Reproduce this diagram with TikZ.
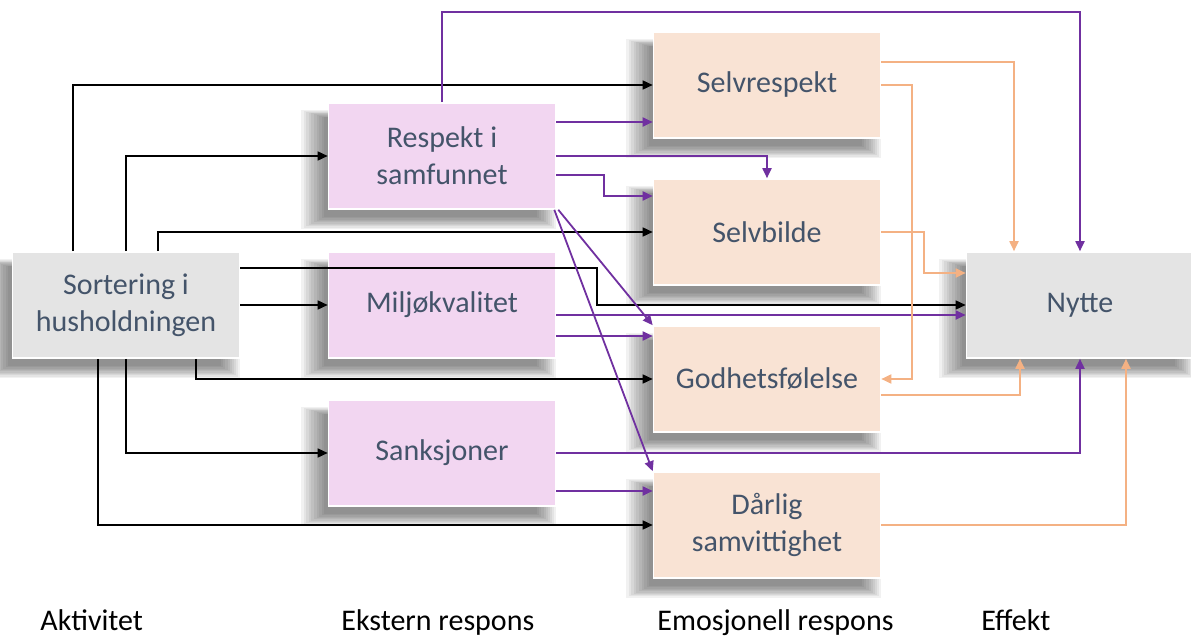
\documentclass[tikz,border=0pt]{standalone}
\usepackage{fontspec}
\setmainfont{Carlito}
\usetikzlibrary{arrows.meta,shadows}
\definecolor{txtgray}{HTML}{44546A}
\definecolor{pinkbox}{HTML}{F2D6F1}
\definecolor{peachbox}{HTML}{F9E3D4}
\definecolor{graybox}{HTML}{E4E4E4}
\definecolor{purp}{HTML}{7030A0}
\definecolor{orng}{HTML}{F4B183}
\newcommand{\boxfont}{\fontsize{15}{18.5}\selectfont}

\begin{document}
\begin{tikzpicture}[x=0.5pt,y=-0.5pt,>={Triangle[length=5pt,width=4.5pt]}]
\tikzstyle{every node}+=[inner sep=0pt]
\tikzstyle{sh}=[drop shadow={shadow xshift=-6pt,shadow yshift=-6pt,opacity=0.055,fill=black,shadow scale=#1}]
\tikzstyle{softshadow}=[sh=1.12,sh=1.10,sh=1.08,sh=1.06,sh=1.04,sh=1.02,sh=1.0,sh=0.98,sh=0.96,sh=0.94]
\tikzstyle{box}=[rectangle,minimum width=113.5pt,minimum height=53pt,align=center,font=\boxfont,text=txtgray,draw=white,line width=0.8pt,softshadow]
\tikzstyle{blk}=[black,line width=0.75pt,->]
\tikzstyle{pur}=[purp,line width=0.9pt,->]
\tikzstyle{ora}=[orng,line width=0.9pt,->]
\tikzstyle{lbl}=[anchor=base west,font=\boxfont,text=black]
\useasboundingbox (0,0) rectangle (1191,637);
\node [box,fill=graybox] (sort) at (126,305) {Sortering i\\husholdningen};
\node [box,fill=pinkbox] (resp) at (442,156) {Respekt i\\samfunnet};
\node [box,fill=pinkbox] (milj) at (442,305) {Miljøkvalitet};
\node [box,fill=pinkbox] (sank) at (442,453) {Sanksjoner};
\node [box,fill=peachbox] (selvr) at (767,85) {Selvrespekt};
\node [box,fill=peachbox] (selvb) at (767,232) {Selvbilde};
\node [box,fill=peachbox] (godh) at (767,379) {Godhetsfølelse};
\node [box,fill=peachbox] (darl) at (767,525) {Dårlig\\samvittighet};
\node [box,fill=graybox] (nytte) at (1080,305) {Nytte};
\node [lbl] (akt) at (40,630) {Aktivitet};
\node [lbl] (ekst) at (341,630) {Ekstern respons};
\node [lbl] (emo) at (657,630) {Emosjonell respons};
\node [lbl] (eff) at (981,630) {Effekt};
\draw [blk] (sort.north -| 73,0) |- (selvr.west);
\draw [blk] (sort.north) |- (resp.west);
\draw [blk] (sort.north -| 158,0) |- (selvb.west);
\draw [blk] (sort.east |- 0,268) -| (nytte.west -| 597,0) -- (nytte.west);
\draw [blk] (sort.east) -- (milj.west);
\draw [blk] (sort.south -| 196,0) |- (godh.west);
\draw [blk] (sort.south) |- (sank.west);
\draw [blk] (sort.south -| 98,0) |- (darl.west);
\draw [pur] (resp.north) |- (nytte.north |- 0,12) -- (nytte.north);
\draw [pur] (resp.east |- 0,122) -- (selvr.west |- 0,122);
\draw [pur] (resp.east) -| (selvb.north);
\draw [pur] (resp.east |- 0,175) -| (604,196) -- (selvb.west |- 0,196);
\draw [pur] ([xshift=1pt]resp.south east) -- (godh.north west);
\draw [pur] ([xshift=-1pt]resp.south east) -- (darl.north west);
\draw [pur] (milj.east |- 0,315) -- (nytte.west |- 0,315);
\draw [pur] (milj.east |- 0,336) -- (godh.west |- 0,336);
\draw [pur] (sank.east) -| (nytte.south);
\draw [pur] (sank.east |- 0,491) -- (darl.west |- 0,491);
\draw [ora] (selvr.east |- 0,62) -| (nytte.north -| 1014,0);
\draw [ora] (selvr.east) -| (godh.east -| 912,0) -- (godh.east);
\draw [ora] (selvb.east) -| (924,273) -- (nytte.west |- 0,273);
\draw [ora] (godh.east |- 0,395) -| (nytte.south -| 1020,0);
\draw [ora] (darl.east) -| (nytte.south -| 1126,0);
\end{tikzpicture}
\end{document}
